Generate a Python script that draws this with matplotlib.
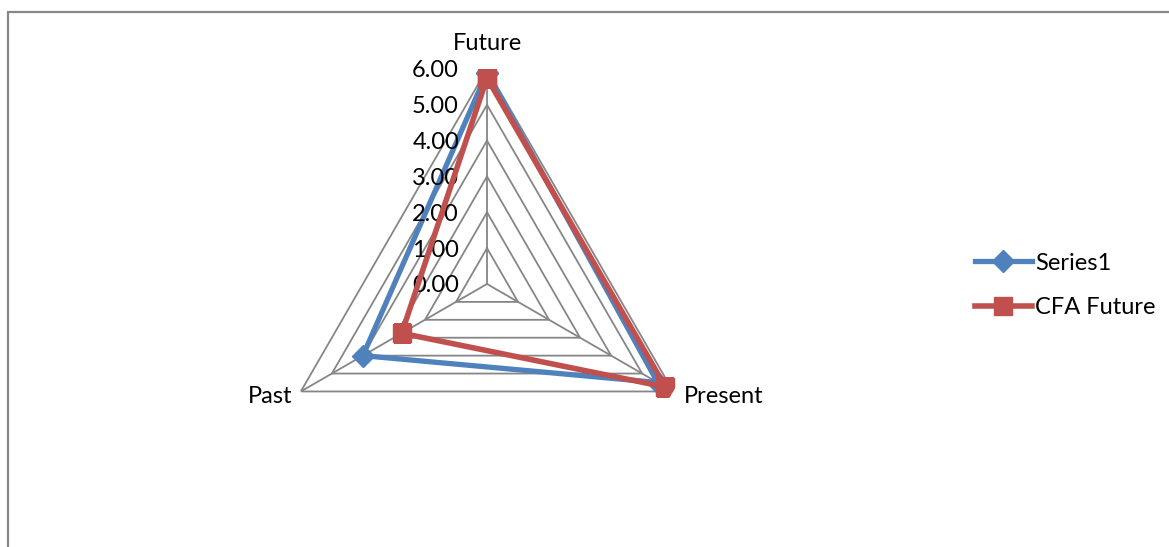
import numpy as np
import matplotlib.pyplot as plt
from matplotlib.patches import Rectangle
from matplotlib.transforms import offset_copy

plt.rcParams['font.family'] = ['Lato', 'DejaVu Sans']

# radar data: Future / Present / Past
categories = ["Future", "Present", "Past"]
series1 = [5.9, 5.5, 4.0]
cfa_future = [5.75, 5.75, 2.75]
levels = [0, 1, 2, 3, 4, 5, 6]
level_labels = ["0.00", "1.00", "2.00", "3.00", "4.00", "5.00", "6.00"]

blue = "#4F81BD"
red = "#C0504D"
grid_col = "#868686"
fs = 17

# axis angles, Future on top going clockwise
angles = np.pi / 2 - np.arange(len(categories)) * 2 * np.pi / len(categories)
closed = np.append(angles, angles[0])

fig = plt.figure(figsize=(11.69, 5.47), dpi=100)
ax = fig.add_axes([0.2327, 0.0878, 0.3678, 0.7861], projection="polar")
ax.set_ylim(0, 6)
ax.set_xticks([])
ax.set_yticks([])
ax.spines["polar"].set_visible(False)
ax.grid(False)
ax.patch.set_alpha(0)

# triangular gridlines and spokes
for lv in levels[1:]:
    ax.plot(closed, [lv] * len(closed), color=grid_col, lw=1.3, zorder=1)
for a in angles:
    ax.plot([a, a], [0, levels[-1]], color=grid_col, lw=1.3, zorder=1)

ax.plot(closed, series1 + series1[:1], color=blue, lw=3.8, marker="D",
        markersize=11, label="Series1", zorder=3)
ax.plot(closed, cfa_future + cfa_future[:1], color=red, lw=4.0, marker="s",
        markersize=13, label="CFA Future", zorder=4)

# value labels along the Future axis
lab_tr = offset_copy(ax.transData, fig=fig, x=-28, y=-2, units="dots")
for lv, txt in zip(levels, level_labels):
    ax.text(angles[0], lv, txt, transform=lab_tr, ha="right", va="center",
            fontsize=fs, color="black")

# category labels
ax.text(angles[0], 6, categories[0],
        transform=offset_copy(ax.transData, fig=fig, x=0, y=25, units="dots"),
        ha="center", va="center", fontsize=fs)
ax.text(angles[1], 6, categories[1],
        transform=offset_copy(ax.transData, fig=fig, x=11, y=-5, units="dots"),
        ha="left", va="center", fontsize=fs)
ax.text(angles[2], 6, categories[2],
        transform=offset_copy(ax.transData, fig=fig, x=-8, y=-5, units="dots"),
        ha="right", va="center", fontsize=fs)

leg = fig.legend(loc="center left", bbox_to_anchor=(0.834, 0.478), frameon=False,
                 fontsize=fs, handlelength=2.4, handletextpad=0.15,
                 labelspacing=1.0, borderpad=0, borderaxespad=0)

# chart area border
fig.patches.append(Rectangle((8 / 1169, -0.05), 1.2, 1.028, transform=fig.transFigure,
                             fill=False, edgecolor="#878787", lw=1.6))

fig.savefig("out.png", dpi=100)
